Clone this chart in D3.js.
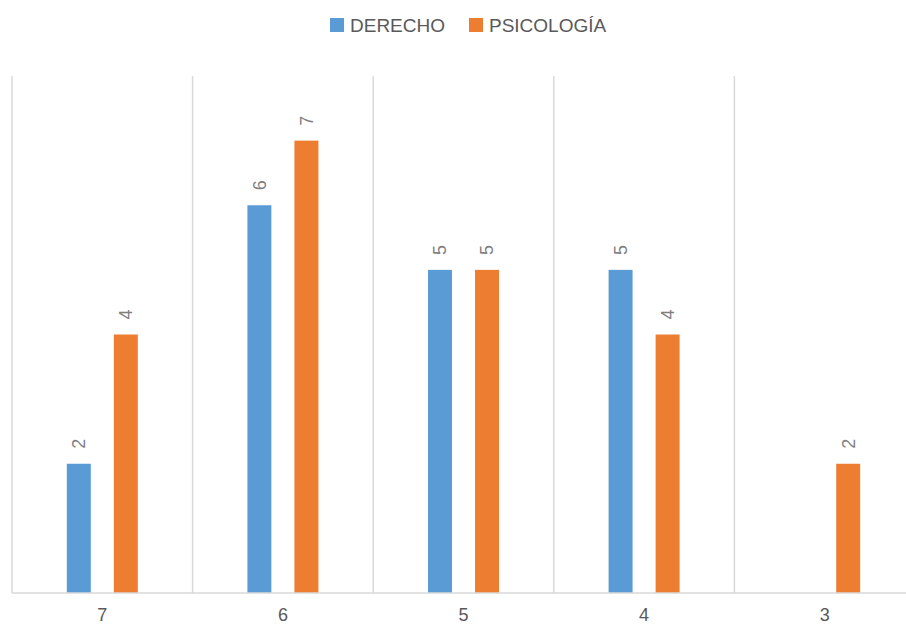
<!DOCTYPE html>
<html>
<head>
<meta charset="utf-8">
<script src="https://cdn.jsdelivr.net/npm/d3@7"></script>
<style>
  body { margin: 0; background: #fff; overflow: hidden; }
  text { font-family: "Liberation Sans", "DejaVu Sans", sans-serif; }
</style>
</head>
<body>
<div id="chart"></div>
<script>
// datos
const categories = ['7', '6', '5', '4', '3'];
const seriesNames = ['DERECHO', 'PSICOLOGÍA'];
const derecho = [2, 6, 5, 5, null];
const psicologia = [4, 7, 5, 4, 2];
const colors = ['#5B9BD5', '#ED7D31'];

const svgWidth = 906;
const svgHeight = 627;
const svg = d3.select('#chart')
  .append('svg')
  .attr('width', svgWidth)
  .attr('height', svgHeight);

// área del gráfico
const plot = { left: 12, right: 915, top: 76, bottom: 593 };

const x0 = d3.scaleBand()
  .domain(categories)
  .range([plot.left, plot.right]);
const bw = x0.bandwidth();
const x1 = d3.scaleBand()
  .domain(seriesNames)
  .range([bw / 2 - 35.5, bw / 2 + 35.5])
  .paddingInner(0.49);
const y = d3.scaleLinear()
  .domain([0, 8])
  .range([plot.bottom, plot.top]);

const rows = categories.map((c, i) => ({
  cat: c,
  values: [
    { key: seriesNames[0], value: derecho[i], color: colors[0] },
    { key: seriesNames[1], value: psicologia[i], color: colors[1] }
  ]
}));

// líneas verticales
const bounds = categories.map(c => x0(c)).concat([plot.right]);
svg.append('g')
  .selectAll('line')
  .data(bounds)
  .join('line')
  .attr('x1', d => d)
  .attr('x2', d => d)
  .attr('y1', plot.top)
  .attr('y2', plot.bottom)
  .attr('stroke', '#d9d9d9')
  .attr('stroke-width', 1.5);

// barras
const groups = svg.append('g')
  .selectAll('g')
  .data(rows)
  .join('g')
  .attr('transform', d => `translate(${x0(d.cat)},0)`);

const valid = d => d.values.filter(v => v.value != null);

groups.selectAll('rect')
  .data(valid)
  .join('rect')
  .attr('x', d => x1(d.key))
  .attr('width', x1.bandwidth())
  .attr('y', d => y(d.value))
  .attr('height', d => y(0) - y(d.value))
  .attr('fill', d => d.color);

// etiquetas de datos
groups.selectAll('text')
  .data(valid)
  .join('text')
  .attr('transform', d => `translate(${x1(d.key) + x1.bandwidth() / 2},${y(d.value) - 15}) rotate(-90)`)
  .attr('dy', '0.35em')
  .attr('text-anchor', 'start')
  .attr('font-size', 18)
  .attr('fill', '#7f7f7f')
  .text(d => d.value);

// eje x
svg.append('line')
  .attr('x1', plot.left)
  .attr('x2', plot.right)
  .attr('y1', plot.bottom)
  .attr('y2', plot.bottom)
  .attr('stroke', '#d9d9d9')
  .attr('stroke-width', 1.5);

svg.append('g')
  .selectAll('text')
  .data(categories)
  .join('text')
  .attr('x', d => x0(d) + bw / 2)
  .attr('y', 621)
  .attr('text-anchor', 'middle')
  .attr('font-size', 18)
  .attr('fill', '#595959')
  .text(d => d);

// leyenda
const legendX = [330, 469];
const legend = svg.append('g')
  .selectAll('g')
  .data(seriesNames)
  .join('g')
  .attr('transform', (d, i) => `translate(${legendX[i]},18)`);
legend.append('rect')
  .attr('width', 14)
  .attr('height', 14)
  .attr('fill', (d, i) => colors[i]);
legend.append('text')
  .attr('x', 20)
  .attr('y', 14)
  .attr('font-size', 19)
  .attr('fill', '#595959')
  .text(d => d);
</script>
</body>
</html>
